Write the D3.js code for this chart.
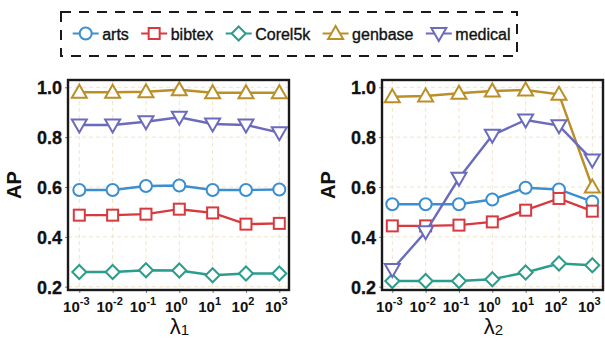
<!DOCTYPE html>
<html>
<head>
  <script src="https://d3js.org/d3.v7.min.js"></script>
  <style>
    body { margin: 0; background: #fff; }
    text { font-family: "Liberation Sans", Arial, sans-serif; }
  </style>
</head>
<body>
<div id="chart"></div>
<script>
var lambdas = [1e-3, 1e-2, 1e-1, 1e0, 1e1, 1e2, 1e3];
var exponents = ["-3", "-2", "-1", "0", "1", "2", "3"];
var yTicks = [0.2, 0.4, 0.6, 0.8, 1.0];
var names = ["arts", "bibtex", "Corel5k", "genbase", "medical"];
var colors = ["#3b8fd0", "#d8393f", "#2a9d8c", "#bb8f28", "#6b6bbd"];
var markers = ["circle", "square", "diamond", "triangle", "down"];

// AP vs lambda1
var l1Arts    = [0.588, 0.588, 0.604, 0.606, 0.588, 0.588, 0.590];
var l1Bibtex  = [0.487, 0.487, 0.491, 0.511, 0.496, 0.451, 0.454];
var l1Corel   = [0.259, 0.259, 0.266, 0.265, 0.246, 0.253, 0.253];
var l1Genbase = [0.980, 0.980, 0.982, 0.990, 0.978, 0.978, 0.978];
var l1Medical = [0.849, 0.849, 0.862, 0.880, 0.853, 0.849, 0.818];

// AP vs lambda2
var l2Arts    = [0.531, 0.531, 0.531, 0.550, 0.597, 0.590, 0.541];
var l2Bibtex  = [0.444, 0.444, 0.447, 0.460, 0.507, 0.554, 0.503];
var l2Corel   = [0.223, 0.223, 0.223, 0.230, 0.257, 0.293, 0.286];
var l2Genbase = [0.962, 0.965, 0.976, 0.985, 0.989, 0.972, 0.600];
var l2Medical = [0.269, 0.420, 0.635, 0.808, 0.869, 0.846, 0.708];

var panels = [
  { left: 68, right: 289, x0: 79.3, x1: 279.3, sub: "1",
    series: [l1Arts, l1Bibtex, l1Corel, l1Genbase, l1Medical] },
  { left: 382, right: 603, x0: 392.3, x1: 592.3, sub: "2",
    series: [l2Arts, l2Bibtex, l2Corel, l2Genbase, l2Medical] }
];

var svg = d3.select("#chart").append("svg").attr("width", 605).attr("height", 341);

var plotTop = 80, plotBottom = 290;
var y = d3.scaleLinear().domain([0.2, 1.0]).range([286.7, 87.3]);

function drawMarker(g, type, cx, cy, color) {
  var p;
  if (type == "circle") {
    p = g.append("circle").attr("cx", cx).attr("cy", cy).attr("r", 6);
  } else if (type == "square") {
    p = g.append("rect").attr("x", cx - 5.5).attr("y", cy - 5.5).attr("width", 11).attr("height", 11);
  } else if (type == "diamond") {
    p = g.append("path").attr("d", "M" + cx + "," + (cy - 7) + "L" + (cx + 7) + "," + cy +
      "L" + cx + "," + (cy + 7) + "L" + (cx - 7) + "," + cy + "Z");
  } else if (type == "triangle") {
    p = g.append("path").attr("d", "M" + cx + "," + (cy - 7.5) + "L" + (cx + 7.5) + "," + (cy + 5.5) +
      "L" + (cx - 7.5) + "," + (cy + 5.5) + "Z");
  } else {
    p = g.append("path").attr("d", "M" + cx + "," + (cy + 7.5) + "L" + (cx + 7.5) + "," + (cy - 5.5) +
      "L" + (cx - 7.5) + "," + (cy - 5.5) + "Z");
  }
  p.attr("fill", "#fff").attr("stroke", color).attr("stroke-width", 2);
}

panels.forEach(function(pn) {
  var x = d3.scaleLog().domain([1e-3, 1e3]).range([pn.x0, pn.x1]);
  var g = svg.append("g");

  // grid
  g.selectAll(".vg").data(lambdas).enter().append("line")
    .attr("x1", function(d) { return x(d); }).attr("x2", function(d) { return x(d); })
    .attr("y1", plotTop).attr("y2", plotBottom)
    .attr("stroke", "#efe5cc").attr("stroke-width", 1).attr("stroke-dasharray", "4,3");
  g.selectAll(".hg").data(yTicks).enter().append("line")
    .attr("x1", pn.left).attr("x2", pn.right)
    .attr("y1", function(d) { return y(d); }).attr("y2", function(d) { return y(d); })
    .attr("stroke", "#efe5cc").attr("stroke-width", 1).attr("stroke-dasharray", "4,3");

  // axes
  var yAxis = d3.axisLeft(y).tickValues(yTicks).tickSize(3).tickPadding(3).tickFormat(d3.format(".1f"));
  var ya = g.append("g").attr("transform", "translate(" + pn.left + ",0)").call(yAxis);
  ya.attr("font-size", null).attr("font-family", null);
  ya.select(".domain").remove();
  ya.selectAll("line").attr("stroke", "#6b7b8c");
  ya.selectAll("text").style("font-size", "18px").style("font-weight", "bold").attr("fill", "#111")
    .attr("stroke", "#111").attr("stroke-width", 0.3).attr("dy", "0.36em");

  var xAxis = d3.axisBottom(x).tickValues(lambdas).tickSize(3).tickFormat("");
  var xa = g.append("g").attr("transform", "translate(0," + plotBottom + ")").call(xAxis);
  xa.select(".domain").remove();
  xa.selectAll("line").attr("stroke", "#6b7b8c");

  var xl = g.selectAll(".xl").data(lambdas).enter().append("text")
    .attr("x", function(d) { return x(d) - 3; }).attr("y", 312)
    .attr("text-anchor", "middle").attr("font-weight", "bold").attr("fill", "#111");
  xl.append("tspan").attr("font-size", 15).text("10");
  xl.append("tspan").attr("font-size", 11).attr("dy", -7).text(function(d, i) { return exponents[i]; });

  // axis titles
  g.append("text")
    .attr("transform", "translate(" + (pn.left - 47) + "," + ((plotTop + plotBottom) / 2) + ") rotate(-90)")
    .attr("text-anchor", "middle").attr("font-size", 20).attr("font-weight", "bold").attr("fill", "#111")
    .text("AP");
  var lt = g.append("text").attr("x", (pn.left + pn.right) / 2 + 1).attr("y", 334)
    .attr("text-anchor", "middle").attr("fill", "#111");
  lt.append("tspan").attr("font-size", 22).text("λ");
  lt.append("tspan").attr("font-size", 15).attr("dy", 1).text(pn.sub);

  // lines and markers
  var line = d3.line().x(function(d, i) { return x(lambdas[i]); }).y(function(d) { return y(d); });
  pn.series.forEach(function(vals, s) {
    g.append("path").datum(vals).attr("d", line)
      .attr("fill", "none").attr("stroke", colors[s]).attr("stroke-width", 2.4);
    vals.forEach(function(v, i) {
      drawMarker(g, markers[s], x(lambdas[i]), y(v), colors[s]);
    });
  });

  // frame
  g.append("rect").attr("x", pn.left).attr("y", plotTop)
    .attr("width", pn.right - pn.left).attr("height", plotBottom - plotTop)
    .attr("fill", "none").attr("stroke", "#1a1a1a").attr("stroke-width", 2.4);
});

// legend
var lg = svg.append("g");
lg.append("rect").attr("x", 61).attr("y", 12).attr("width", 456).attr("height", 44)
  .attr("fill", "none").attr("stroke", "#1a1a1a").attr("stroke-width", 2)
  .attr("stroke-dasharray", "10,8");
var lx = 72.7, ly = 33.5;
names.forEach(function(n, s) {
  lg.append("line").attr("x1", lx).attr("x2", lx + 26).attr("y1", ly).attr("y2", ly)
    .attr("stroke", colors[s]).attr("stroke-width", 2);
  drawMarker(lg, markers[s], lx + 13, ly, colors[s]);
  var t = lg.append("text").attr("x", lx + 29.5).attr("y", ly + 6)
    .attr("font-size", 16).attr("fill", "#111").attr("stroke", "#111").attr("stroke-width", 0.35)
    .text(n);
  lx = lx + 29.5 + t.node().getComputedTextLength() + 12.3;
});
</script>
</body>
</html>
